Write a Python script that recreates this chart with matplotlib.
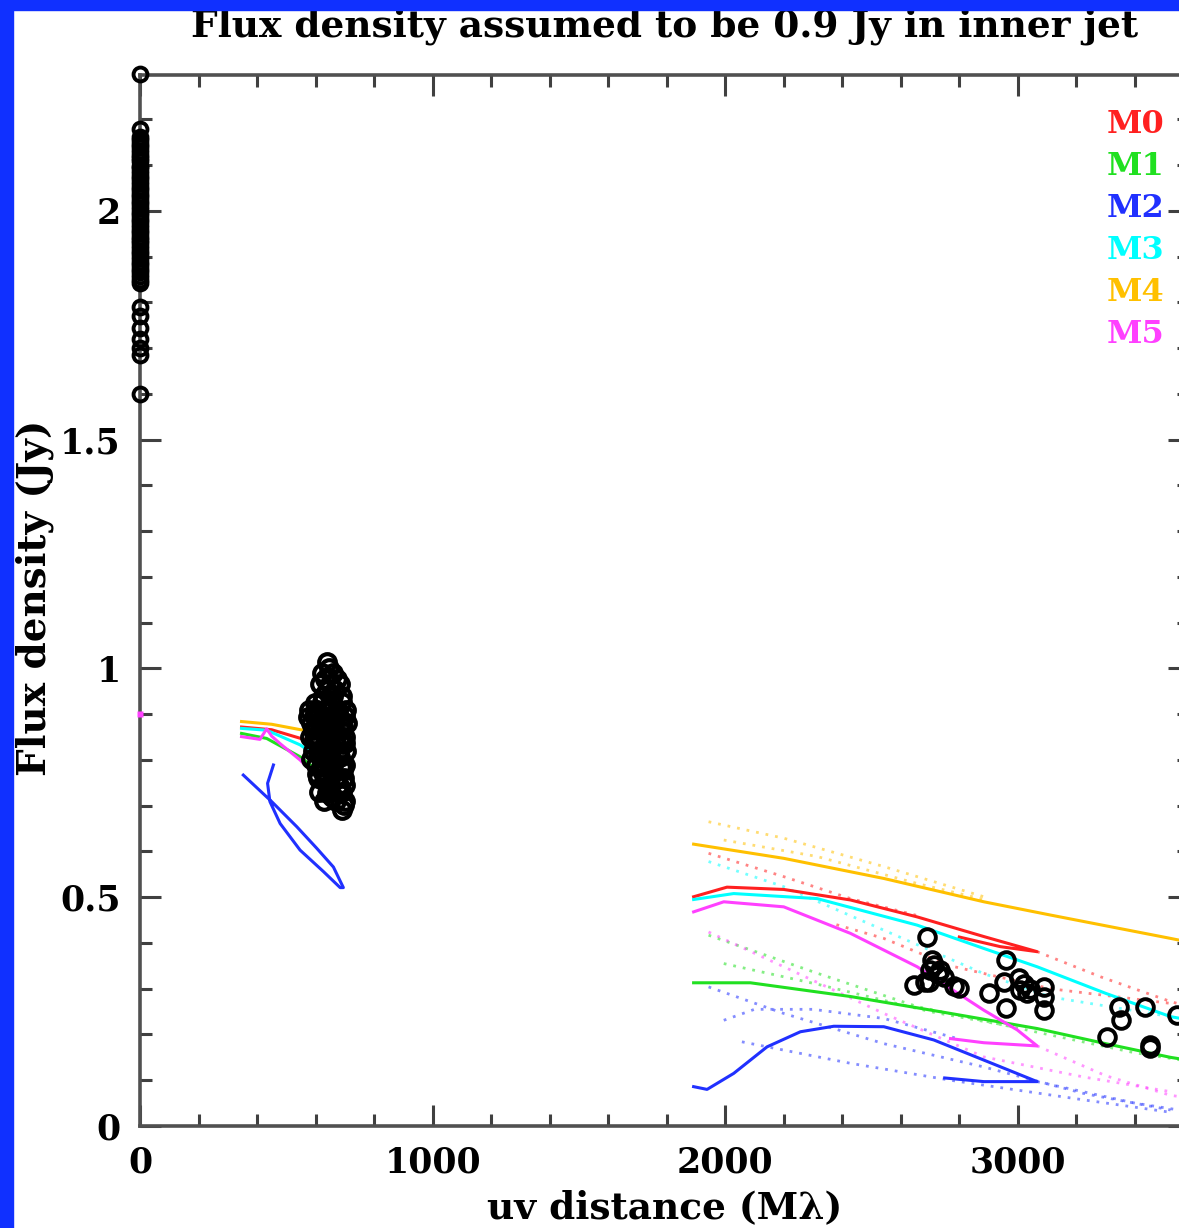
import numpy as np
import matplotlib
matplotlib.use("Agg")
import matplotlib.pyplot as plt
from matplotlib.patches import Rectangle
from matplotlib.ticker import MultipleLocator

plt.rcParams['font.family'] = ['DejaVu Serif', 'DejaVu Sans']

# observed visibilities: uv distance (Mlambda), flux density (Jy)
zero_y = [2.30, 2.18, 2.162, 2.155, 2.146, 2.139, 2.131, 2.122, 2.116, 2.108,
          2.099, 2.093, 2.084, 2.077, 2.069, 2.061, 2.052, 2.046, 2.037, 2.031,
          2.022, 2.014, 2.007, 1.998, 1.991, 1.983, 1.975, 1.968, 1.959, 1.952,
          1.944, 1.936, 1.929, 1.921, 1.913, 1.905, 1.897, 1.889, 1.881, 1.873,
          1.866, 1.858, 1.850, 1.842, 1.79, 1.77, 1.745, 1.72, 1.70, 1.685, 1.60]

mid_x = [638, 621, 660, 615, 650, 684, 625, 660, 690, 578, 605, 640, 675, 705,
         585, 615, 650, 690, 708, 580, 610, 640, 670, 700, 590, 620, 650, 680,
         705, 600, 630, 660, 690, 702, 610, 640, 670, 698, 612, 650, 690, 630,
         670, 700, 689,
         645, 632, 672, 640, 668, 598, 622, 657, 690, 595, 630, 668, 700, 592,
         625, 655, 688, 606, 636, 667, 695, 615, 653, 684, 623, 660, 694, 648,
         680, 655, 700, 575, 700, 586, 604, 696,
         612, 645, 678, 600, 632, 662, 694, 596, 648, 682, 610, 640, 676, 620,
         655, 688, 628, 665, 640, 680]
mid_y = [1.015, 0.99, 0.99, 0.965, 0.965, 0.965, 0.94, 0.94, 0.94, 0.91, 0.91,
         0.91, 0.91, 0.91, 0.88, 0.88, 0.88, 0.88, 0.88, 0.85, 0.85, 0.85, 0.85,
         0.85, 0.82, 0.82, 0.82, 0.82, 0.82, 0.79, 0.79, 0.79, 0.79, 0.79, 0.76,
         0.76, 0.76, 0.76, 0.73, 0.73, 0.73, 0.71, 0.71, 0.71, 0.69,
         1.002, 0.978, 0.977, 0.952, 0.953, 0.925, 0.927, 0.924, 0.926, 0.896,
         0.894, 0.897, 0.895, 0.866, 0.864, 0.867, 0.865, 0.836, 0.834, 0.837,
         0.835, 0.806, 0.804, 0.807, 0.776, 0.774, 0.777, 0.745, 0.746, 0.720,
         0.745, 0.893, 0.838, 0.802, 0.770, 0.702,
         0.903, 0.906, 0.902, 0.873, 0.874, 0.872, 0.873, 0.843, 0.844, 0.842,
         0.813, 0.812, 0.814, 0.784, 0.783, 0.785, 0.755, 0.756, 0.728, 0.727]

far_x = [2690, 2707, 2701, 2735, 2747, 2695, 2644, 2684, 2781, 2798, 2901, 2958,
         2952, 2958, 3003, 3009, 3032, 3089, 3089, 3089, 3345, 3351, 3305, 3433,
         3451, 3453, 3545, 2712, 2727, 3020, 3040]
far_y = [0.414, 0.363, 0.341, 0.341, 0.326, 0.315, 0.308, 0.315, 0.305, 0.301,
         0.291, 0.363, 0.315, 0.257, 0.323, 0.297, 0.290, 0.304, 0.283, 0.253,
         0.261, 0.231, 0.195, 0.261, 0.177, 0.170, 0.242, 0.352, 0.333, 0.310,
         0.300]

# model tracks (uv, flux)
m4_short = [(347, 0.884), (450, 0.878), (558, 0.865), (600, 0.860)]
m4_solid = [(1892, 0.616), (2200, 0.585), (2542, 0.541), (2884, 0.490),
            (3112, 0.461), (3522, 0.410), (3600, 0.400)]
m4_dot1 = [(1943, 0.665), (2200, 0.629), (2542, 0.567), (2884, 0.501)]
m4_dot2 = [(1995, 0.625), (2314, 0.589), (2656, 0.530), (2884, 0.495)]

m0_short = [(347, 0.872), (450, 0.866), (560, 0.845), (600, 0.835)]
m0_solid = [(1892, 0.501), (2006, 0.522), (2200, 0.517), (2428, 0.494),
            (2656, 0.457), (2884, 0.414), (3066, 0.381), (2940, 0.392),
            (2800, 0.413)]
m0_dot1 = [(1943, 0.596), (2200, 0.545), (2428, 0.497), (2656, 0.460)]
m0_dot2 = [(2380, 0.440), (2542, 0.410), (2770, 0.350), (3112, 0.300),
           (3522, 0.268)]
m0_dot3 = [(3066, 0.381), (3283, 0.326), (3522, 0.272), (3600, 0.258)]

m3_short = [(347, 0.869), (433, 0.865), (547, 0.833), (600, 0.810)]
m3_solid = [(1892, 0.495), (2029, 0.508), (2314, 0.497), (2656, 0.439),
            (2884, 0.388), (3066, 0.348), (3300, 0.290), (3522, 0.239),
            (3600, 0.230)]
m3_dot1 = [(1943, 0.578), (2200, 0.523), (2542, 0.428), (2884, 0.333),
           (3112, 0.282), (3522, 0.239)]

m1_short = [(347, 0.858), (433, 0.847), (547, 0.807), (600, 0.780)]
m1_solid = [(1892, 0.313), (2086, 0.313), (2428, 0.283), (2770, 0.246),
            (3066, 0.213), (3300, 0.180), (3522, 0.150), (3600, 0.142)]
m1_dot1 = [(1943, 0.417), (2314, 0.334), (2656, 0.261), (3066, 0.205),
           (3400, 0.160), (3600, 0.140)]
m1_dot2 = [(1995, 0.355), (2314, 0.310), (2700, 0.250), (3000, 0.215)]

m5_short = [(347, 0.851), (410, 0.845), (433, 0.868), (450, 0.852),
            (480, 0.835), (547, 0.800), (592, 0.771)]
m5_solid = [(1892, 0.468), (1995, 0.490), (2200, 0.479), (2428, 0.421),
            (2656, 0.348), (2884, 0.253), (2998, 0.210), (3066, 0.175),
            (2884, 0.182), (2770, 0.191)]
m5_dot1 = [(3066, 0.175), (3300, 0.110), (3522, 0.067), (3600, 0.060)]
m5_dot2 = [(1943, 0.424), (2200, 0.348), (2542, 0.246), (2884, 0.151),
           (3226, 0.107), (3522, 0.075)]
m5_zero = (0, 0.9)

m2_short = [(353, 0.767), (450, 0.709), (536, 0.654), (604, 0.607),
            (661, 0.566), (695, 0.521), (684, 0.521), (627, 0.556),
            (547, 0.603), (479, 0.661), (444, 0.709), (436, 0.749),
            (456, 0.789)]
m2_solid = [(1892, 0.086), (1938, 0.080), (2029, 0.115), (2143, 0.173),
            (2257, 0.206), (2371, 0.218), (2542, 0.217), (2713, 0.188),
            (2884, 0.144), (3066, 0.097), (2884, 0.097), (2750, 0.105)]
m2_dot1 = [(1943, 0.304), (2200, 0.246), (2542, 0.180), (2884, 0.129),
           (3226, 0.071), (3522, 0.035)]
m2_dot2 = [(1995, 0.231), (2100, 0.255), (2300, 0.255), (2542, 0.235),
           (2800, 0.190)]
m2_dot3 = [(2057, 0.184), (2428, 0.137), (2770, 0.100), (3226, 0.057),
           (3522, 0.030)]
m2_dot4 = [(3066, 0.097), (3400, 0.050), (3600, 0.030)]

labels = ['M0', 'M1', 'M2', 'M3', 'M4', 'M5']
colors = ['#ff2020', '#20e020', '#2030ff', '#00ffff', '#ffc000', '#ff40ff']

W, H = 1179, 1228
fig = plt.figure(figsize=(W / 100, H / 100), dpi=100)
fig.patch.set_facecolor('white')
ax = fig.add_axes([140 / W, 1 - 1126 / H, (1189 - 140) / W, (1126 - 75) / H])


def track(pts, c, dotted=False):
    xs = [p[0] for p in pts]
    ys = [p[1] for p in pts]
    if dotted:
        ax.plot(xs, ys, color=c, lw=2.0, ls=(0, (1, 2.5)), alpha=0.55, zorder=2)
    else:
        ax.plot(xs, ys, color=c, lw=2.2, zorder=3)


track(m4_short, colors[4]); track(m4_solid, colors[4])
track(m4_dot1, colors[4], True); track(m4_dot2, colors[4], True)
track(m0_short, colors[0]); track(m0_solid, colors[0])
track(m0_dot1, colors[0], True); track(m0_dot2, colors[0], True)
track(m0_dot3, colors[0], True)
track(m3_short, colors[3]); track(m3_solid, colors[3])
track(m3_dot1, colors[3], True)
track(m1_short, colors[1]); track(m1_solid, colors[1])
track(m1_dot1, colors[1], True); track(m1_dot2, colors[1], True)
track(m5_short, colors[5]); track(m5_solid, colors[5])
track(m5_dot1, colors[5], True); track(m5_dot2, colors[5], True)
track(m2_short, colors[2]); track(m2_solid, colors[2])
track(m2_dot1, colors[2], True); track(m2_dot2, colors[2], True)
track(m2_dot3, colors[2], True); track(m2_dot4, colors[2], True)
ax.plot([m5_zero[0]], [m5_zero[1]], marker='s', ms=4, color=colors[5],
        mec='none', zorder=5, clip_on=False)

# data points
ax.plot(np.zeros(len(zero_y)), zero_y, 'o', mfc='none', mec='black', ms=10,
        mew=2.8, zorder=6, clip_on=False)
ax.plot(mid_x, mid_y, 'o', mfc='none', mec='black', ms=12, mew=3.0, zorder=6)
ax.plot(far_x, far_y, 'o', mfc='none', mec='black', ms=12, mew=2.8, zorder=6)

ax.set_xlim(0, 3585)
ax.set_ylim(0, 2.297)
ax.xaxis.set_major_locator(MultipleLocator(1000))
ax.xaxis.set_minor_locator(MultipleLocator(200))
ax.yaxis.set_major_locator(MultipleLocator(0.5))
ax.yaxis.set_minor_locator(MultipleLocator(0.1))
ax.yaxis.set_major_formatter(plt.FuncFormatter(lambda v, p: '%g' % v))
ax.tick_params(which='both', direction='in', top=True, right=True,
               color='#404040', width=2.2)
ax.tick_params(which='major', length=15, labelsize=25, pad=14)
ax.tick_params(which='minor', length=8.5)
for t in ax.get_xticklabels() + ax.get_yticklabels():
    t.set_fontweight('bold')
for s in ax.spines.values():
    s.set_color('#505050')
    s.set_linewidth(2.6)

for i, (lab, c) in enumerate(zip(labels, colors)):
    ax.text(0.921, 0.953 - i * 0.04, lab, color=c, fontsize=23,
            fontweight='bold', transform=ax.transAxes, ha='left', va='center')

fig.text(665 / W, 1 - 26 / H, 'Flux density assumed to be 0.9 Jy in inner jet',
         ha='center', va='center', fontsize=27, fontweight='bold')
fig.text(35 / W, 1 - 598 / H, 'Flux density (Jy)', rotation=90,
         ha='center', va='center', fontsize=28, fontweight='bold')
fig.text(665 / W, 1 - 1208 / H, 'uv distance (M\u03bb)', ha='center',
         va='center', fontsize=27, fontweight='bold')

# blue frame on left and top
fig.patches.append(Rectangle((0, 0), 13 / W, 1, transform=fig.transFigure,
                             color='#1030ff', zorder=10))
fig.patches.append(Rectangle((0, 1 - 10 / H), 1, 10 / H,
                             transform=fig.transFigure, color='#1030ff',
                             zorder=10))

fig.savefig('out.png', dpi=100)
